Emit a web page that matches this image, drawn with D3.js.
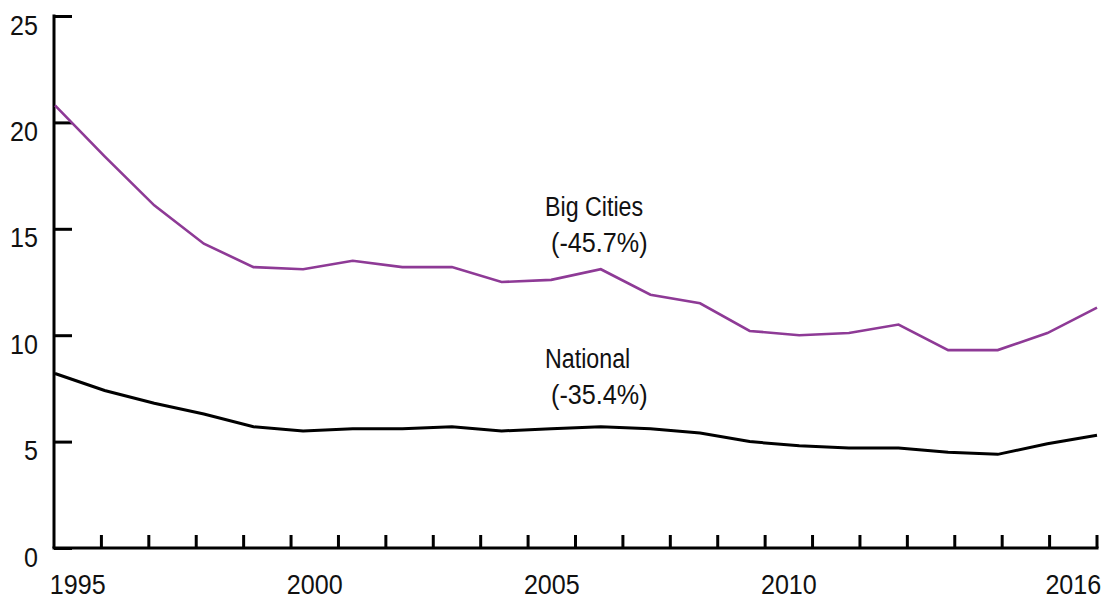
<!DOCTYPE html>
<html>
<head>
<meta charset="utf-8">
<script src="https://d3js.org/d3.v7.min.js"></script>
<style>
  body { margin: 0; background: #fff; }
  svg text { font-family: "Liberation Sans Narrow", "Liberation Sans", Arial, sans-serif; fill: #111; }
</style>
</head>
<body>
<svg width="1103" height="598"></svg>
<script>
// years on the category axis
var years = d3.range(1995, 2017);
var yearLabels = [1995, 2000, 2005, 2010, 2016];
var yTicks = [0, 5, 10, 15, 20, 25];

// rates
var bigCities = [20.8, 18.4, 16.1, 14.3, 13.2, 13.1, 13.5, 13.2, 13.2, 12.5, 12.6,
                 13.1, 11.9, 11.5, 10.2, 10.0, 10.1, 10.5, 9.3, 9.3, 10.1, 11.3];
var national = [8.2, 7.4, 6.8, 6.3, 5.7, 5.5, 5.6, 5.6, 5.7, 5.5, 5.6,
                5.7, 5.6, 5.4, 5.0, 4.8, 4.7, 4.7, 4.5, 4.4, 4.9, 5.3];

var labels = [
  {text: "Big Cities", x: 545, y: 216, sx: 0.83},
  {text: "(-45.7%)", x: 551, y: 252, sx: 0.9},
  {text: "National", x: 545, y: 367.5, sx: 0.83},
  {text: "(-35.4%)", x: 551, y: 404, sx: 0.9}
];

var svg = d3.select("svg");
var mLeft = 54, mRight = 1097, mTop = 16, mBottom = 548;

var xBand = d3.scaleBand().domain(years).range([mLeft, mRight]);
var xPt = d3.scalePoint().domain(years).range([mLeft + 1, mRight]);
var y = d3.scaleLinear().domain([0, 25]).range([mBottom, mTop]);

// condensed look: squeeze a regular font horizontally
function squeezed(sel, sx) {
  sel.attr("transform", function (d) {
    var t = d3.select(this);
    var s = sx || d.sx;
    return "translate(" + t.attr("data-x") + "," + t.attr("data-y") + ") scale(" + s + ",1)";
  });
}

// y axis: ticks pointing inward
var yAxis = svg.append("g")
  .attr("transform", "translate(" + mLeft + ",0)")
  .call(d3.axisLeft(y).tickValues(yTicks).tickSize(-18).tickFormat(""));
yAxis.select(".domain").attr("stroke", "#000").attr("stroke-width", 3)
  .attr("d", "M0," + (mTop - 1.5) + "V" + mBottom);
yAxis.selectAll(".tick line").attr("stroke", "#000").attr("stroke-width", 3);

// y labels sit a little below their tick
svg.append("g").selectAll("text")
  .data(yTicks)
  .join("text")
  .attr("data-x", 38)
  .attr("data-y", d => y(d) + 18.5)
  .attr("text-anchor", "end")
  .attr("font-size", 28.5)
  .text(d => d)
  .call(squeezed, 0.88);

// x axis baseline
svg.append("line")
  .attr("x1", mLeft - 1.5).attr("x2", mRight + 1.5)
  .attr("y1", mBottom).attr("y2", mBottom)
  .attr("stroke", "#000").attr("stroke-width", 3);

// tick marks between categories
svg.append("g").selectAll("line")
  .data(years)
  .join("line")
  .attr("x1", d => xBand(d) + xBand.bandwidth())
  .attr("x2", d => xBand(d) + xBand.bandwidth())
  .attr("y1", mBottom).attr("y2", mBottom - 13)
  .attr("stroke", "#000").attr("stroke-width", 3);

// year labels centred in their category
svg.append("g").selectAll("text")
  .data(yearLabels)
  .join("text")
  .attr("data-x", d => xBand(d) + xBand.bandwidth() / 2)
  .attr("data-y", 593.5)
  .attr("text-anchor", "middle")
  .attr("font-size", 27)
  .text(d => d)
  .call(squeezed, 0.93);

var line = d3.line()
  .x((d, i) => xPt(years[i]))
  .y(d => y(d));

svg.append("path")
  .datum(national)
  .attr("fill", "none")
  .attr("stroke", "#000")
  .attr("stroke-width", 3)
  .attr("d", line);

svg.append("path")
  .datum(bigCities)
  .attr("fill", "none")
  .attr("stroke", "#8E3A96")
  .attr("stroke-width", 2.6)
  .attr("d", line);

svg.append("g").selectAll("text")
  .data(labels)
  .join("text")
  .attr("data-x", d => d.x)
  .attr("data-y", d => d.y)
  .attr("font-size", 28)
  .text(d => d.text)
  .call(squeezed);
</script>
</body>
</html>
